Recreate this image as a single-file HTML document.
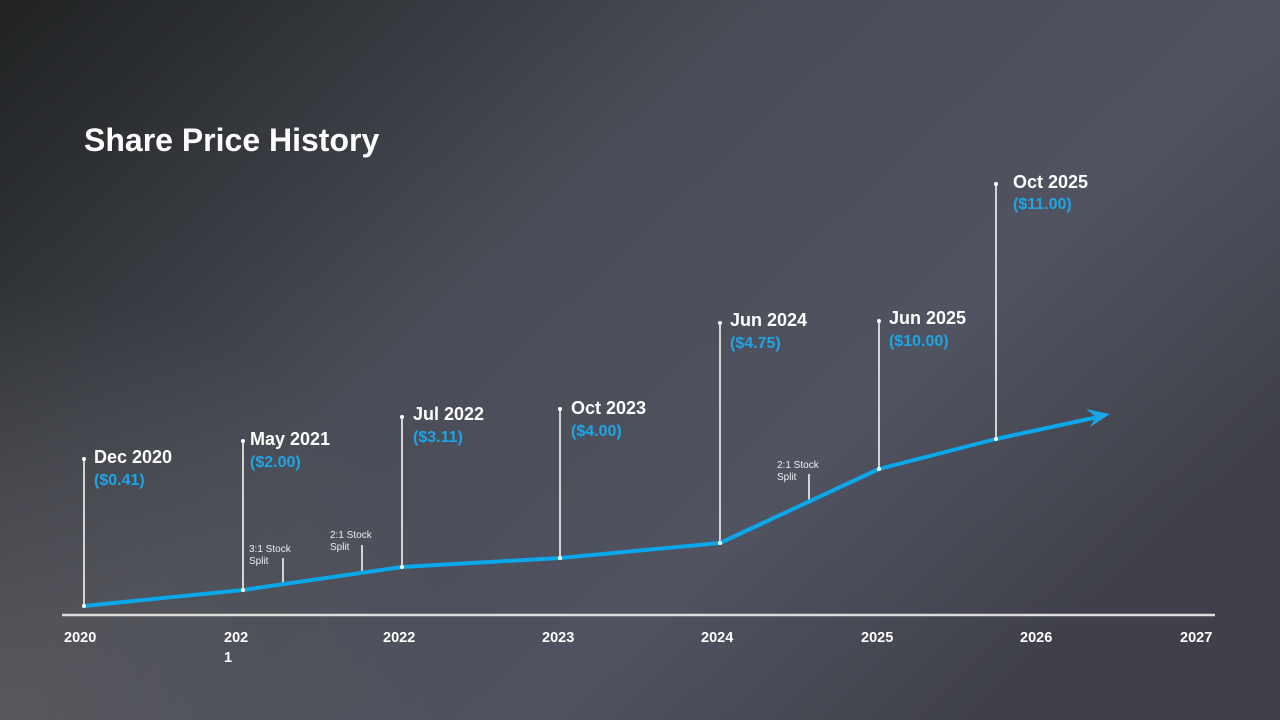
<!DOCTYPE html>
<html><head><meta charset="utf-8"><style>
html,body{margin:0;padding:0;width:1280px;height:720px;overflow:hidden;background:#45474f}
svg{display:block;font-family:"Liberation Sans",Arial,sans-serif}
</style></head><body>
<svg width="1280" height="720" viewBox="0 0 1280 720">
<defs>
<linearGradient id="bg" x1="0" y1="0" x2="1" y2="0.6">
<stop offset="0" stop-color="#1f2122"/>
<stop offset="0.45" stop-color="#4a4d57"/>
<stop offset="0.75" stop-color="#505360"/>
<stop offset="1" stop-color="#3f4049"/>
</linearGradient>
<radialGradient id="bl" cx="0" cy="1" r="0.6" gradientTransform="scale(0.6,1)">
<stop offset="0" stop-color="#5a5a5e" stop-opacity="0.8"/>
<stop offset="1" stop-color="#5a5a5e" stop-opacity="0"/>
</radialGradient>
</defs>
<rect width="1280" height="720" fill="url(#bg)"/>
<rect width="1280" height="720" fill="url(#bl)"/>
<text x="84" y="151" fill="#fff" font-size="32" font-weight="bold">Share Price History</text>
<g stroke="#fff" stroke-width="1.5">
<line x1="84" y1="459" x2="84" y2="606"/>
<line x1="243" y1="441" x2="243" y2="590"/>
<line x1="402" y1="417" x2="402" y2="567"/>
<line x1="560" y1="409" x2="560" y2="558"/>
<line x1="720" y1="323" x2="720" y2="543"/>
<line x1="879" y1="321" x2="879" y2="469"/>
<line x1="996" y1="184" x2="996" y2="439"/>
<line x1="283" y1="558" x2="283" y2="585"/>
<line x1="362" y1="545" x2="362" y2="573"/>
<line x1="809" y1="474" x2="809" y2="503"/>
</g>
<line x1="62" y1="615" x2="1215" y2="615" stroke="#ddd" stroke-width="2.5"/>
<polyline points="84,606 243,590 402,567 560,558 720,543 879,469 996,439 1098,417" fill="none" stroke="#0aa7ea" stroke-width="4" stroke-linejoin="round"/>
<polygon points="1110,414 1086,409 1096,417 1090,427" fill="#1ea5e6"/>
<g fill="#fff">
<circle cx="84" cy="459" r="2"/><circle cx="84" cy="606" r="2"/>
<circle cx="243" cy="441" r="2"/><circle cx="243" cy="590" r="2"/>
<circle cx="402" cy="417" r="2"/><circle cx="402" cy="567" r="2"/>
<circle cx="560" cy="409" r="2"/><circle cx="560" cy="558" r="2"/>
<circle cx="720" cy="323" r="2"/><circle cx="720" cy="543" r="2"/>
<circle cx="879" cy="321" r="2"/><circle cx="879" cy="469" r="2"/>
<circle cx="996" cy="184" r="2"/><circle cx="996" cy="439" r="2"/>
</g>
<g fill="#fff" font-size="18" font-weight="bold">
<text x="94" y="463">Dec 2020</text>
<text x="250" y="445">May 2021</text>
<text x="413" y="420">Jul 2022</text>
<text x="571" y="414">Oct 2023</text>
<text x="730" y="326">Jun 2024</text>
<text x="889" y="324">Jun 2025</text>
<text x="1013" y="188">Oct 2025</text>
</g>
<g fill="#1ea5e6" font-size="16" font-weight="bold">
<text x="94" y="485">($0.41)</text>
<text x="250" y="467">($2.00)</text>
<text x="413" y="442">($3.11)</text>
<text x="571" y="436">($4.00)</text>
<text x="730" y="348">($4.75)</text>
<text x="889" y="346">($10.00)</text>
<text x="1013" y="209">($11.00)</text>
</g>
<g fill="#eee" font-size="10">
<text x="249" y="552">3:1 Stock</text><text x="249" y="564">Split</text>
<text x="330" y="538">2:1 Stock</text><text x="330" y="550">Split</text>
<text x="777" y="468">2:1 Stock</text><text x="777" y="480">Split</text>
</g>
<g fill="#fff" font-size="14.5" font-weight="bold">
<text x="64" y="642">2020</text>
<text x="224" y="642">202</text><text x="224" y="662">1</text>
<text x="383" y="642">2022</text>
<text x="542" y="642">2023</text>
<text x="701" y="642">2024</text>
<text x="861" y="642">2025</text>
<text x="1020" y="642">2026</text>
<text x="1180" y="642">2027</text>
</g>
</svg>
</body></html>
